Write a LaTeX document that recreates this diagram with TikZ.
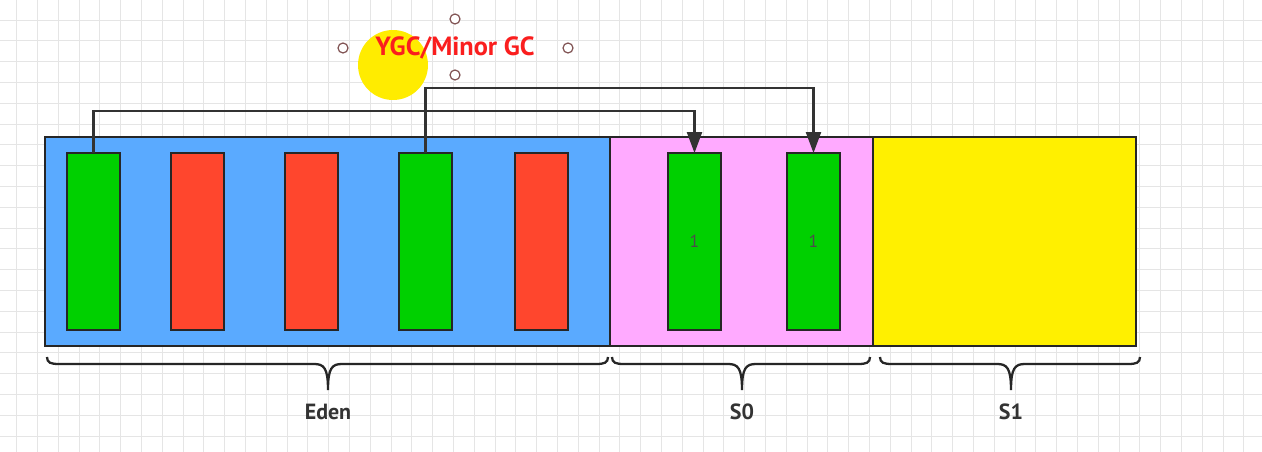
\documentclass[tikz,border=0pt]{standalone}
\usepackage{fontspec}
\setmainfont{PT Sans}
\usetikzlibrary{arrows.meta}

\definecolor{edenblue}{RGB}{90,170,255}
\definecolor{szeropink}{RGB}{255,170,255}
\definecolor{sonecolor}{RGB}{255,240,0}
\definecolor{gcgreen}{RGB}{0,208,0}
\definecolor{gcred}{RGB}{255,70,45}
\definecolor{gctitle}{RGB}{250,30,30}
\definecolor{hiyellow}{RGB}{255,236,0}
\definecolor{handlecol}{RGB}{130,85,85}

% curly brace under a region: left end, tip, right end (pixel units)
\newcommand{\genbrace}[3]{%
	\draw[genbr] (#1,357) .. controls (#1,363) and (#1+4,364) .. (#1+12,364)
		-- (#2-14,364) .. controls (#2-4,364) and (#2,368) .. (#2,390)
		.. controls (#2,368) and (#2+4,364) .. (#2+14,364)
		-- (#3-12,364) .. controls (#3-4,364) and (#3,363) .. (#3,357);}

\begin{document}
\begin{tikzpicture}
		[x=0.02cm, y=-0.02cm,
		gridline/.style={draw=black!10, line width=0.6pt},
		area/.style={
			rectangle,
			draw=black!85,
			line width=1.2pt,
			inner sep=0pt,
			outer sep=0pt,
			anchor=north west,
			minimum height=4.18cm
		},
		obj/.style={rectangle,draw=black!85,line width=1.2pt,inner sep=0pt,outer sep=0pt,anchor=north west,minimum width=1.06cm,minimum height=3.54cm,font=\fontsize{10}{11}\selectfont,text=black!70},
		live/.style={obj,fill=gcgreen},
		dead/.style={obj,fill=gcred},
		copyline/.style={draw=black!80,line width=1.3pt,-{Triangle[length=0.42cm,width=0.3cm]}},
		genbr/.style={draw=black!85,line width=1.3pt},
		genlabel/.style={font=\fontsize{12.5}{14}\selectfont\bfseries,text=black!80},
		handle/.style={circle,draw=handlecol,fill=white,line width=0.7pt,inner sep=0pt,minimum size=0.2cm}]
		\useasboundingbox[fill=white] (0,0) rectangle (1262,452);
		% background grid
		\foreach \gx in {0,...,60}
			\draw[gridline] (16.7+20.8*\gx,0) -- (16.7+20.8*\gx,452);
		\foreach \gy in {0,...,21}
			\draw[gridline] (0,20.1+20.8*\gy) -- (1262,20.1+20.8*\gy);
		% regions
		\node[area,fill=edenblue,minimum width=11.3cm] (eden) at (45,137) {};
		\node[area,fill=szeropink,minimum width=5.26cm] (szero) at (610,137) {};
		\node[area,fill=sonecolor,minimum width=5.26cm] (sone) at (873,137) {};
		% objects in eden
		\node[live] (e1) at (67,153) {};
		\node[dead] (e2) at (171,153) {};
		\node[dead] (e3) at (285,153) {};
		\node[live] (e4) at (399,153) {};
		\node[dead] (e5) at (515,153) {};
		% survivors in s0
		\node[live] (s1) at (668,153) {1};
		\node[live] (s2) at (787,153) {1};
		% copy
		\draw[copyline] (e1.north) -- ++(0,-42) -| (s1.north);
		\draw[copyline] (e4.north) -- ++(0,-65) -| (s2.north);
		% braces
		\genbrace{47}{328}{608}
		\genbrace{612}{742}{870}
		\genbrace{880}{1011}{1140}
		\node[genlabel] (edenlbl) at (328,412) {Eden};
		\node[genlabel] (szerolbl) at (742,412) {S0};
		\node[genlabel] (sonelbl) at (1011,412) {S1};
		% title
		\node[circle,fill=hiyellow,minimum size=1.4cm,inner sep=0pt] (pointer) at (393,65) {};
		\node[font=\fontsize{15}{17}\selectfont\bfseries,text=gctitle] (gclabel) at (455,48) {YGC/Minor GC};
		\node[handle] (hn) at (455,19) {};
		\node[handle] (hw) at (343,48) {};
		\node[handle] (he) at (568,48) {};
		\node[handle] (hs) at (455,75) {};
\end{tikzpicture}
\end{document}
